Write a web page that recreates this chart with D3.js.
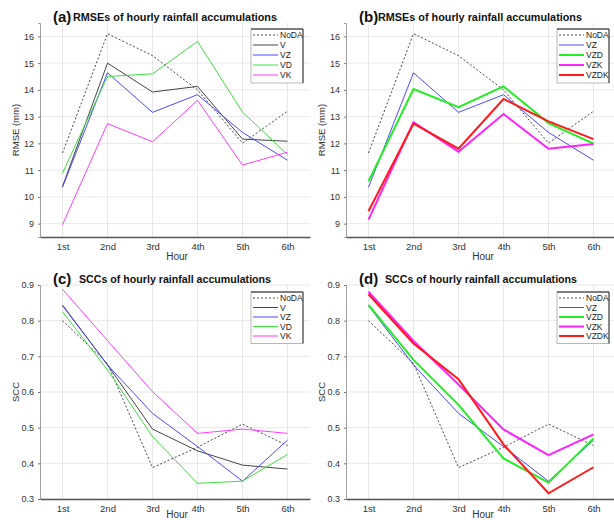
<!DOCTYPE html>
<html>
<head>
<meta charset="utf-8">
<script src="https://cdn.jsdelivr.net/npm/d3@7"></script>
<style>
  body { margin: 0; background: #fff; }
  svg { display: block; font-family: "Liberation Sans", Arial, sans-serif; }
</style>
</head>
<body>
<svg id="chart" width="614" height="520"></svg>
<script>
// Dados
const hours = ['1st', '2nd', '3rd', '4th', '5th', '6th'];

const rmseTicks = [9, 10, 11, 12, 13, 14, 15, 16];
const rmseNoDA = [11.64, 16.10, 15.28, 14.00, 12.01, 13.20];
const rmseV    = [10.39, 15.00, 13.92, 14.13, 12.16, 12.08];
const rmseVZ   = [10.36, 14.64, 13.16, 13.82, 12.41, 11.37];
const rmseVD   = [10.89, 14.50, 14.60, 15.81, 13.17, 11.58];
const rmseVK   = [8.96, 12.74, 12.06, 13.61, 11.19, 11.67];
const rmseVZD  = [10.58, 14.03, 13.35, 14.13, 12.76, 11.99];
const rmseVZK  = [9.15, 12.79, 11.69, 13.10, 11.80, 11.98];
const rmseVZDK = [9.46, 12.74, 11.80, 13.66, 12.82, 12.16];

const sccTicks = [0.3, 0.4, 0.5, 0.6, 0.7, 0.8, 0.9];
const sccNoDA = [0.800, 0.680, 0.388, 0.445, 0.510, 0.450];
const sccV    = [0.844, 0.676, 0.496, 0.435, 0.395, 0.384];
const sccVZ   = [0.842, 0.676, 0.540, 0.447, 0.350, 0.465];
const sccVD   = [0.825, 0.662, 0.475, 0.344, 0.350, 0.425];
const sccVK   = [0.888, 0.744, 0.601, 0.484, 0.496, 0.484];
const sccVZD  = [0.844, 0.690, 0.564, 0.414, 0.346, 0.470];
const sccVZK  = [0.881, 0.743, 0.621, 0.495, 0.423, 0.481];
const sccVZDK = [0.874, 0.736, 0.636, 0.453, 0.316, 0.389];

// Estilos das séries
const styles = {
    NoDA: { color: '#333', width: 0.9, dash: '2,2' },
    V:    { color: '#444', width: 1,   dash: null },
    VZ:   { color: '#4a4aff', width: 1, dash: null },
    VD:   { color: '#3ee03e', width: 1, dash: null },
    VK:   { color: '#ff3cff', width: 1, dash: null },
    VZD:  { color: '#22ee22', width: 2, dash: null },
    VZK:  { color: '#ff22ff', width: 2, dash: null },
    VZDK: { color: '#ff1a1a', width: 2, dash: null }
};

const svg = d3.select('#chart');

function drawPanel(p) {
    const g = svg.append('g');

    const x = d3.scaleLinear().domain([0.5, 6.5]).range([p.left, p.right]);
    const y = d3.scaleLinear().domain(p.domain).range([p.bottom, p.top]);

    // Grade
    g.selectAll('line.gx')
        .data(hours)
        .enter()
        .append('line')
        .attr('x1', (d, i) => x(i + 1))
        .attr('x2', (d, i) => x(i + 1))
        .attr('y1', p.top)
        .attr('y2', p.bottom)
        .attr('stroke', '#e2e2e2')
        .attr('stroke-width', 0.8);

    g.selectAll('line.gy')
        .data(p.ticks)
        .enter()
        .append('line')
        .attr('x1', p.left)
        .attr('x2', p.right)
        .attr('y1', d => y(d))
        .attr('y2', d => y(d))
        .attr('stroke', '#e2e2e2')
        .attr('stroke-width', 0.8);

    // Eixos
    const xAxis = d3.axisBottom(x)
        .tickValues(d3.range(1, 7))
        .tickFormat(d => hours[d - 1])
        .tickSize(0)
        .tickPadding(6);
    const ax = g.append('g')
        .attr('transform', `translate(0,${p.bottom})`)
        .call(xAxis);
    ax.select('.domain').attr('stroke', '#555').attr('stroke-width', 1.3);
    ax.selectAll('text').attr('font-size', '9.5px').attr('fill', '#333')
        .attr('font-family', '"Liberation Sans", Arial, sans-serif');

    const yAxis = d3.axisLeft(y)
        .tickValues(p.ticks)
        .tickFormat(p.fmt)
        .tickSize(2)
        .tickPadding(4);
    const ay = g.append('g')
        .attr('transform', `translate(${p.left},0)`)
        .call(yAxis);
    ay.select('.domain').attr('stroke', '#888').attr('stroke-width', 0.8);
    ay.selectAll('.tick line').attr('stroke', '#777');
    ay.selectAll('text').attr('font-size', '9px').attr('fill', '#333')
        .attr('font-family', '"Liberation Sans", Arial, sans-serif');

    // Rótulos dos eixos
    g.append('text')
        .attr('x', (p.left + p.right) / 2 + 2)
        .attr('y', p.hourY)
        .attr('text-anchor', 'middle')
        .attr('font-size', '10px')
        .attr('fill', '#333')
        .text('Hour');

    g.append('text')
        .attr('transform', `translate(${p.left - 21},${(p.top + p.bottom) / 2}) rotate(-90)`)
        .attr('text-anchor', 'middle')
        .attr('font-size', '9.5px')
        .attr('fill', '#333')
        .text(p.ylabel);

    // Título
    g.append('text')
        .attr('x', p.left + 13)
        .attr('y', p.titleY)
        .attr('font-size', '15px')
        .attr('font-weight', 'bold')
        .attr('fill', '#111')
        .text(p.tag);

    g.append('text')
        .attr('x', p.left + p.titleX)
        .attr('y', p.titleY - 1)
        .attr('font-size', '10px')
        .attr('font-weight', 'bold')
        .attr('fill', '#111')
        .attr('textLength', p.titleW)
        .attr('lengthAdjust', 'spacingAndGlyphs')
        .text(p.title);

    // Linhas
    const line = d3.line()
        .x((d, i) => x(i + 1))
        .y(d => y(d));

    p.series.forEach(s => {
        const st = styles[s.name];
        g.append('path')
            .datum(s.values)
            .attr('d', line)
            .attr('fill', 'none')
            .attr('stroke', st.color)
            .attr('stroke-width', st.width)
            .attr('stroke-dasharray', st.dash);
    });

    // Legenda
    const lx = p.left + 211;
    const lw = 52;
    const lg = g.append('g');
    lg.append('rect')
        .attr('x', lx)
        .attr('y', p.legendY)
        .attr('width', lw)
        .attr('height', p.series.length * p.legendStep + 4)
        .attr('fill', '#fff')
        .attr('stroke', '#999')
        .attr('stroke-width', 0.7);
    lg.append('line')
        .attr('x1', lx).attr('x2', lx + lw)
        .attr('y1', p.legendY).attr('y2', p.legendY)
        .attr('stroke', '#222').attr('stroke-width', 1.2);
    lg.append('line')
        .attr('x1', lx + lw).attr('x2', lx + lw)
        .attr('y1', p.legendY).attr('y2', p.legendY + p.series.length * p.legendStep + 4)
        .attr('stroke', '#333').attr('stroke-width', 1);

    p.series.forEach((s, i) => {
        const st = styles[s.name];
        const yy = p.legendY + 6 + i * p.legendStep;
        lg.append('line')
            .attr('x1', lx + 2)
            .attr('x2', lx + 27)
            .attr('y1', yy)
            .attr('y2', yy)
            .attr('stroke', st.color)
            .attr('stroke-width', st.width)
            .attr('stroke-dasharray', st.dash);
        lg.append('text')
            .attr('x', lx + 29)
            .attr('y', yy + 3)
            .attr('font-size', '8.5px')
            .attr('fill', '#222')
            .text(s.name);
    });
}

const rmseTitle = 'RMSEs of hourly rainfall accumulations';
const sccTitle = 'SCCs of hourly rainfall accumulations';
const rmseFmt = d => d;
const sccFmt = d3.format('.1f');

drawPanel({
    left: 40, right: 310, top: 23, bottom: 237,
    domain: [8.5, 16.5], ticks: rmseTicks, fmt: rmseFmt,
    ylabel: 'RMSE (mm)', tag: '(a)', title: rmseTitle,
    titleX: 33, titleW: 204, titleY: 22, hourY: 260,
    legendY: 29, legendStep: 10,
    series: [
        { name: 'NoDA', values: rmseNoDA },
        { name: 'V', values: rmseV },
        { name: 'VZ', values: rmseVZ },
        { name: 'VD', values: rmseVD },
        { name: 'VK', values: rmseVK }
    ]
});

drawPanel({
    left: 346, right: 616, top: 23, bottom: 237,
    domain: [8.5, 16.5], ticks: rmseTicks, fmt: rmseFmt,
    ylabel: 'RMSE (mm)', tag: '(b)', title: rmseTitle,
    titleX: 32, titleW: 204, titleY: 22, hourY: 260,
    legendY: 29, legendStep: 10,
    series: [
        { name: 'NoDA', values: rmseNoDA },
        { name: 'VZ', values: rmseVZ },
        { name: 'VZD', values: rmseVZD },
        { name: 'VZK', values: rmseVZK },
        { name: 'VZDK', values: rmseVZDK }
    ]
});

drawPanel({
    left: 40, right: 310, top: 285, bottom: 499,
    domain: [0.3, 0.9], ticks: sccTicks, fmt: sccFmt,
    ylabel: 'SCC', tag: '(c)', title: sccTitle,
    titleX: 39, titleW: 192, titleY: 284, hourY: 518,
    legendY: 292, legendStep: 9.5,
    series: [
        { name: 'NoDA', values: sccNoDA },
        { name: 'V', values: sccV },
        { name: 'VZ', values: sccVZ },
        { name: 'VD', values: sccVD },
        { name: 'VK', values: sccVK }
    ]
});

drawPanel({
    left: 346, right: 616, top: 285, bottom: 499,
    domain: [0.3, 0.9], ticks: sccTicks, fmt: sccFmt,
    ylabel: 'SCC', tag: '(d)', title: sccTitle,
    titleX: 39, titleW: 192, titleY: 284, hourY: 518,
    legendY: 292, legendStep: 9.5,
    series: [
        { name: 'NoDA', values: sccNoDA },
        { name: 'VZ', values: sccVZ },
        { name: 'VZD', values: sccVZD },
        { name: 'VZK', values: sccVZK },
        { name: 'VZDK', values: sccVZDK }
    ]
});
</script>
</body>
</html>
